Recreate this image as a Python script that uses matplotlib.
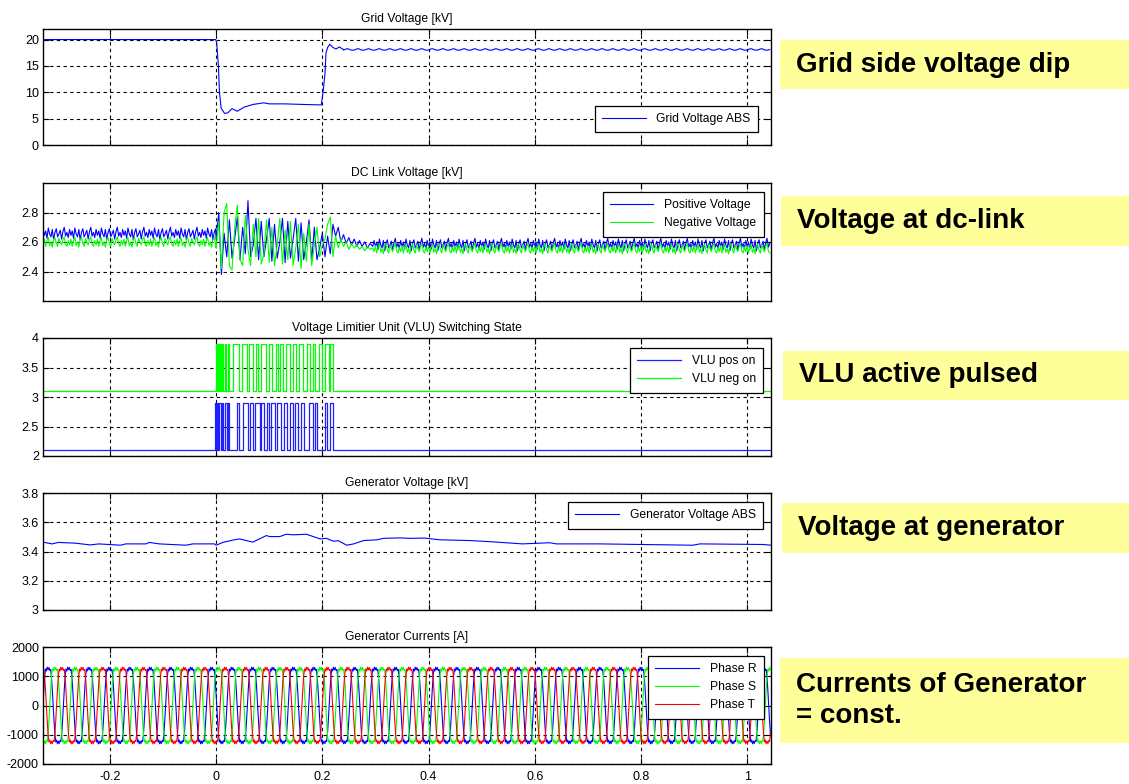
import numpy as np
import matplotlib
matplotlib.use('Agg')
import matplotlib.pyplot as plt
from matplotlib.patches import Rectangle

plt.rcParams['font.family'] = ['Liberation Sans', 'DejaVu Sans']
plt.rcParams['axes.unicode_minus'] = False

T_START, T_END = -0.326, 1.045

x_ticks = [-0.2, 0, 0.2, 0.4, 0.6, 0.8, 1.0]
x_tick_labels = ['-0.2', '0', '0.2', '0.4', '0.6', '0.8', '1']

# ---- Grid voltage [kV] ----
grid_t = [T_START, -0.001, 0.001, 0.0044, 0.0063, 0.0095, 0.0158, 0.022, 0.030,
          0.040, 0.053, 0.070, 0.090, 0.100, 0.130, 0.160, 0.198, 0.200, 0.2025,
          0.205, 0.207, 0.210, 0.214, 0.220, 0.226, 0.232, 0.240]
grid_v = [20.0, 20.0, 19.5, 15.0, 10.0, 7.0, 6.0, 6.1, 6.9,
          6.4, 7.2, 7.7, 8.0, 7.8, 7.8, 7.7, 7.6, 9.0, 11.0,
          13.5, 17.5, 18.5, 19.1, 18.5, 18.2, 18.6, 18.1]
grid_ripple = [18.02, 18.10, 18.22, 18.26, 18.18, 18.06, 18.00, 17.98]
GRID_DT = 0.0025

# ---- DC link voltage [kV] ----
DC_DT = 0.0025
dc_pre_pos, dc_pre_neg = 2.655, 2.600
dc_post_pos, dc_post_neg = 2.580, 2.555
pos_ripple = [0.03, -0.01, 0.02, -0.03, 0.04, 0.00, -0.02, 0.03, -0.04, 0.01,
              0.035, -0.02, 0.00, 0.025, -0.035, 0.015, 0.045, -0.015, 0.01, -0.025]
neg_ripple = [-0.02, 0.02, -0.03, 0.01, 0.03, -0.025, 0.00, -0.035, 0.02, 0.03,
              -0.01, -0.03, 0.025, 0.00, -0.02, 0.015, 0.035, -0.015, -0.03, 0.01]
DC_TR_DT = 0.005
dc_tr_pos = [2.62, 2.80, 2.38, 2.66, 2.50, 2.75, 2.49, 2.62, 2.77, 2.48,
             2.70, 2.52, 2.88, 2.50, 2.58, 2.76, 2.48, 2.74, 2.50, 2.62,
             2.76, 2.47, 2.72, 2.49, 2.60, 2.76, 2.46, 2.74, 2.49, 2.62,
             2.76, 2.47, 2.73, 2.48, 2.60, 2.75, 2.47, 2.70, 2.48, 2.56,
             2.66, 2.50, 2.64, 2.52, 2.72, 2.64, 2.70, 2.60, 2.65, 2.59,
             2.63, 2.58, 2.62, 2.57, 2.61, 2.57, 2.60, 2.56, 2.59, 2.57]
dc_tr_neg = [2.56, 2.74, 2.42, 2.80, 2.86, 2.44, 2.41, 2.70, 2.85, 2.48,
             2.44, 2.78, 2.55, 2.44, 2.72, 2.50, 2.76, 2.45, 2.52, 2.75,
             2.46, 2.70, 2.44, 2.58, 2.76, 2.45, 2.68, 2.48, 2.74, 2.44,
             2.56, 2.72, 2.42, 2.66, 2.47, 2.72, 2.44, 2.58, 2.70, 2.50,
             2.58, 2.62, 2.72, 2.77, 2.50, 2.64, 2.56, 2.62, 2.57, 2.60,
             2.55, 2.59, 2.56, 2.58, 2.55, 2.57, 2.54, 2.57, 2.55, 2.56]

# ---- VLU switching state: (on, off) times of each pulse ----
vlu_pos_low, vlu_pos_high = 2.1, 2.9
vlu_neg_low, vlu_neg_high = 3.1, 3.9
vlu_pos_pulses = [(-0.0025, 0.0), (0.0019, 0.0038), (0.0063, 0.0088), (0.0107, 0.0139),
                  (0.0164, 0.0196), (0.0221, 0.0252), (0.039, 0.044), (0.050, 0.060),
                  (0.064, 0.069), (0.074, 0.082), (0.085, 0.090), (0.095, 0.100),
                  (0.104, 0.110), (0.115, 0.122), (0.128, 0.134), (0.139, 0.144),
                  (0.148, 0.155), (0.160, 0.166), (0.175, 0.182), (0.186, 0.190),
                  (0.205, 0.209), (0.2145, 0.220)]
vlu_neg_pulses = [(0.0, 0.0025), (0.0044, 0.0063), (0.0076, 0.0101), (0.0114, 0.0139),
                  (0.0164, 0.0189), (0.0215, 0.0252), (0.0315, 0.0429), (0.0492, 0.058),
                  (0.0618, 0.0694), (0.0744, 0.0789), (0.0852, 0.0934), (0.0997, 0.106),
                  (0.1123, 0.1167), (0.1211, 0.1262), (0.1312, 0.1388), (0.1451, 0.1514),
                  (0.1565, 0.164), (0.1703, 0.1767), (0.1817, 0.1861), (0.1943, 0.1994),
                  (0.2057, 0.212), (0.2145, 0.2208)]

# ---- Generator voltage [kV] ----
gen_t = [T_START, -0.309, -0.297, -0.265, -0.237, -0.221, -0.180, -0.170, -0.132,
         -0.126, -0.107, -0.057, -0.044, -0.003, 0.0, 0.0126, 0.0315, 0.044, 0.069,
         0.0946, 0.101, 0.120, 0.132, 0.145, 0.170, 0.183, 0.196, 0.208, 0.221,
         0.230, 0.246, 0.259, 0.278, 0.303, 0.315, 0.347, 0.364, 0.392, 0.421,
         0.477, 0.521, 0.577, 0.628, 0.641, 0.723, 0.898, 0.911, 1.030, T_END]
gen_v = [3.464, 3.452, 3.462, 3.457, 3.445, 3.452, 3.443, 3.452, 3.452,
         3.462, 3.452, 3.443, 3.452, 3.452, 3.443, 3.462, 3.478, 3.486, 3.464,
         3.509, 3.502, 3.502, 3.518, 3.514, 3.518, 3.502, 3.486, 3.490, 3.470,
         3.474, 3.443, 3.452, 3.475, 3.480, 3.490, 3.493, 3.490, 3.492, 3.480,
         3.475, 3.466, 3.452, 3.460, 3.452, 3.452, 3.443, 3.452, 3.448, 3.443]

# ---- Generator currents [A]: one period of phase R, sampled ----
CUR_PERIOD = 0.0385
cur_half = [50, 550, 1000, 1250, 1180, 1310, 1220, 1300, 1200, 1230, 950, 500]
cur_cycle = cur_half + [-v for v in cur_half]
phase_shift = {'Phase R': 0, 'Phase S': 8, 'Phase T': 16}
phase_color = {'Phase R': '#0000ff', 'Phase S': '#00ff00', 'Phase T': '#ff0000'}

# ---- annotation boxes (pixel rows in the 1129x784 picture) ----
notes = ['Grid side voltage dip', 'Voltage at dc-link', 'VLU active pulsed',
         'Voltage at generator', 'Currents of Generator\n= const.']
note_boxes = [(780, 40, 89), (781, 196, 246), (783, 351, 400), (782, 503, 553), (780, 658, 743)]

titles = ['Grid Voltage [kV]', 'DC Link Voltage [kV]',
          'Voltage Limitier Unit (VLU) Switching State', 'Generator Voltage [kV]',
          'Generator Currents [A]']
panel_px = [(29, 145), (183, 301), (338, 456), (493, 610), (647, 764)]


def tiled(start, stop, dt, pattern, offset=0.0):
    t = np.arange(start, stop, dt)
    return t, offset + np.resize(np.array(pattern, dtype=float), len(t))


def pulse_line(pulses, low, high):
    xs, ys = [T_START], [low]
    for on, off in pulses:
        xs += [on, on, off, off]
        ys += [low, high, high, low]
    xs.append(T_END)
    ys.append(low)
    return xs, ys


W, H = 1129, 784
fig = plt.figure(figsize=(W / 100, H / 100), dpi=100)
axes = []
for (top, bot), title in zip(panel_px, titles):
    ax = fig.add_axes([43 / W, 1 - bot / H, 728 / W, (bot - top) / H])
    ax.set_title(title, fontsize=8.7, pad=5)
    ax.set_xlim(T_START, T_END)
    ax.set_xticks(x_ticks)
    ax.set_xticklabels([])
    ax.grid(True, color='black', linestyle=(0, (3, 3)), linewidth=0.8)
    ax.tick_params(direction='in', top=True, right=True, length=4, width=0.8,
                   labelsize=9, pad=3)
    ax.tick_params(axis='x', pad=5)
    for s in ax.spines.values():
        s.set_linewidth(1.0)
    axes.append(ax)

leg_kw = dict(fontsize=8.7, fancybox=False, edgecolor='black', framealpha=1,
              handlelength=3.6, handletextpad=0.9, borderpad=0.6, labelspacing=0.5,
              borderaxespad=0)

# panel 1
ax = axes[0]
ax.plot(grid_t, grid_v, color='#0000ff', lw=0.8, label='Grid Voltage ABS')
t_r, v_r = tiled(grid_t[-1], T_END, GRID_DT, grid_ripple)
ax.plot(t_r, v_r, color='#0000ff', lw=0.8)
ax.set_ylim(0, 22)
ax.set_yticks([0, 5, 10, 15, 20])
ax.legend(loc='lower right', bbox_to_anchor=(0.982, 0.112), **leg_kw).get_frame().set_linewidth(0.9)

# panel 2
ax = axes[1]
t_pre, pos_pre = tiled(T_START, 0.0, DC_DT, pos_ripple, dc_pre_pos)
_, neg_pre = tiled(T_START, 0.0, DC_DT, neg_ripple, dc_pre_neg)
t_tr = DC_TR_DT * np.arange(len(dc_tr_pos))
t_post, pos_post = tiled(t_tr[-1] + DC_DT, T_END, DC_DT, pos_ripple, dc_post_pos)
_, neg_post = tiled(t_tr[-1] + DC_DT, T_END, DC_DT, neg_ripple, dc_post_neg)
t_dc = np.concatenate([t_pre, t_tr, t_post])
ax.plot(t_dc, np.concatenate([pos_pre, dc_tr_pos, pos_post]), color='#0000ff', lw=0.8,
        label='Positive Voltage')
ax.plot(t_dc, np.concatenate([neg_pre, dc_tr_neg, neg_post]), color='#00ff00', lw=0.8,
        label='Negative Voltage')
ax.set_ylim(2.2, 3.0)
ax.set_yticks([2.4, 2.6, 2.8])
ax.set_yticklabels(['2.4', '2.6', '2.8'])
ax.legend(loc='upper right', bbox_to_anchor=(0.990, 0.924), **leg_kw).get_frame().set_linewidth(0.9)

# panel 3
ax = axes[2]
xs, ys = pulse_line(vlu_pos_pulses, vlu_pos_low, vlu_pos_high)
ax.plot(xs, ys, color='#2020ff', lw=0.9, label='VLU pos on')
xs, ys = pulse_line(vlu_neg_pulses, vlu_neg_low, vlu_neg_high)
ax.plot(xs, ys, color='#00ff00', lw=0.9, label='VLU neg on')
ax.set_ylim(2, 4)
ax.set_yticks([2, 2.5, 3, 3.5, 4])
ax.set_yticklabels(['2', '2.5', '3', '3.5', '4'])
ax.legend(loc='upper right', bbox_to_anchor=(0.989, 0.915), **leg_kw).get_frame().set_linewidth(0.9)

# panel 4
ax = axes[3]
ax.plot(gen_t, gen_v, color='#0000ff', lw=0.8, label='Generator Voltage ABS')
ax.set_ylim(3.0, 3.8)
ax.set_yticks([3.0, 3.2, 3.4, 3.6, 3.8])
ax.set_yticklabels(['3', '3.2', '3.4', '3.6', '3.8'])
ax.legend(loc='upper right', bbox_to_anchor=(0.989, 0.923), **leg_kw).get_frame().set_linewidth(0.9)

# panel 5
ax = axes[4]
cur_dt = CUR_PERIOD / len(cur_cycle)
t_cur = np.arange(T_START, T_END, cur_dt)
for name, shift in phase_shift.items():
    wave = np.resize(np.roll(cur_cycle, shift), len(t_cur))
    ax.plot(t_cur, wave, color=phase_color[name], lw=0.8, label=name)
ax.set_ylim(-2000, 2000)
ax.set_yticks([-2000, -1000, 0, 1000, 2000])
ax.set_xticklabels(x_tick_labels)
ax.legend(loc='upper right', bbox_to_anchor=(0.990, 0.923), **leg_kw).get_frame().set_linewidth(0.9)

# annotation boxes
for text, (x0, y0, y1) in zip(notes, note_boxes):
    fig.patches.append(Rectangle((x0 / W, 1 - y1 / H), (W - x0) / W, (y1 - y0) / H,
                                 transform=fig.transFigure, facecolor='#ffff99',
                                 edgecolor='none', zorder=0))
    fig.text((x0 + 16) / W, 1 - (y0 + y1) / 2 / H, text, fontsize=20, fontweight='bold',
             va='center', ha='left', linespacing=1.25)

fig.savefig('out.png', dpi=100)
